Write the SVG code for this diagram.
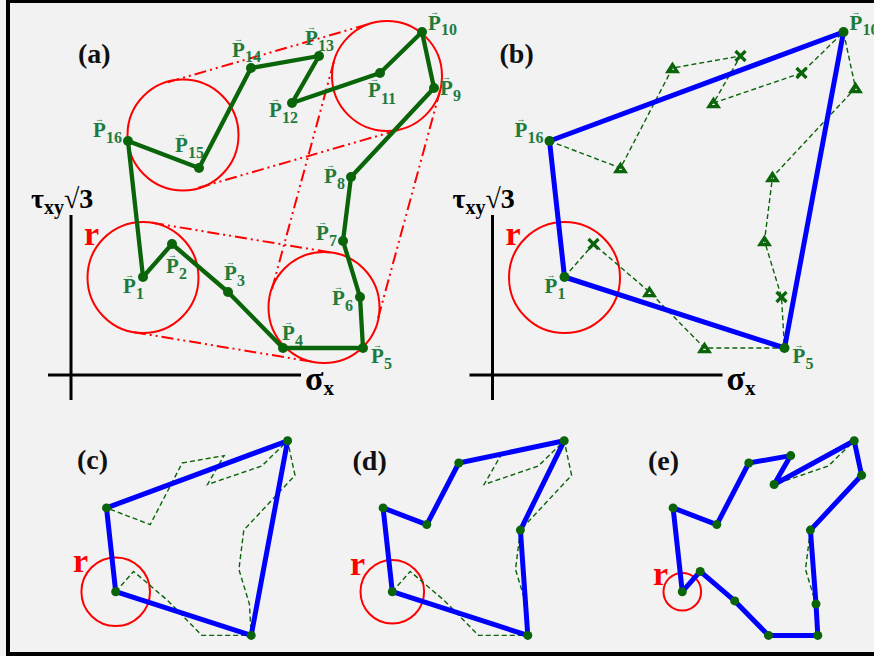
<svg xmlns="http://www.w3.org/2000/svg" xmlns:xlink="http://www.w3.org/1999/xlink" width="874" height="656" viewBox="0 0 874 656">
<style>
text{font-family:"Liberation Serif","DejaVu Serif",serif;font-weight:bold}
.lbl{font-size:21px;fill:#1e7b3c}
.sub{font-size:16px}
.arr{font-size:9px;font-weight:normal}
.pan{font-size:28px;fill:#111}
.r{font-size:34px;fill:#f00}
.ax{stroke:#000;stroke-width:3;fill:none}
.axl{font-size:28px;fill:#000}
.sig{font-size:34px}
.circ{fill:none;stroke:#f00;stroke-width:2}
.tan{fill:none;stroke:#f00;stroke-width:2;stroke-dasharray:12 4 2 4 2 4}
.gpath{fill:none;stroke:#0a640a;stroke-width:4.3;stroke-linejoin:round}
.dash{fill:none;stroke:#0a640a;stroke-width:1.4;stroke-dasharray:5 3}
.hull{fill:none;stroke:#0000ff;stroke-width:5;stroke-linejoin:round}
.dot{fill:#0a640a}
.mk{fill:none;stroke:#0a640a;stroke-width:3.2}
</style>
<defs>
<polygon id="tri" class="mk" points="0,-3.5 4.6,3.6 -4.6,3.6"/>
<g id="crs" class="mk"><line x1="-5" y1="-5" x2="5" y2="5"/><line x1="-5" y1="5" x2="5" y2="-5"/></g>
<polygon id="dashc" class="dash" points="115.7,591.7 133.6,571.4 168.1,600.9 201.9,635.4 251.2,635.4 249.4,604 238.9,569.5 243.8,530.1 295,475.3 287.6,440.8 261.7,466 207.5,484.5 224.1,455.6 182.2,463 150.2,524.6 106.5,507.9"/>
</defs>
<rect width="874" height="656" fill="#f2f2f2"/>
<g id="frame" fill="#000">
<rect x="6" y="0" width="868" height="3"/>
<rect x="6" y="0" width="4" height="656"/>
<rect x="6" y="652" width="868" height="4"/>
</g>

<!-- Panel (a) -->
<g id="panel-a">
<text class="pan" x="78" y="63">(a)</text>
<g id="axes-a">
<line class="ax" x1="71" y1="215" x2="71" y2="400"/>
<line class="ax" x1="48" y1="375" x2="301" y2="375"/>
<text class="axl" x="31" y="208">τ<tspan font-size="20" dy="6">xy</tspan><tspan dy="-6">√3</tspan></text>
<text class="axl" x="305" y="390"><tspan class="sig">σ</tspan><tspan font-size="21" dy="5">x</tspan></text>
</g>
<text class="r" x="84" y="245">r</text>
<g id="circles-a">
<circle class="circ" cx="183" cy="135" r="55.5"/>
<circle class="circ" cx="387" cy="76" r="55"/>
<circle class="circ" cx="143" cy="277.5" r="55.5"/>
<circle class="circ" cx="324" cy="307.5" r="55.5"/>
</g>
<g id="tangents-a">
<line class="tan" x1="167.7" y1="82.2" x2="371.7" y2="23.2"/>
<line class="tan" x1="198.3" y1="187.8" x2="402.3" y2="128.8"/>
<line class="tan" x1="333.9" y1="61.6" x2="270.9" y2="293.1"/>
<line class="tan" x1="440.1" y1="90.4" x2="377.1" y2="321.9"/>
<line class="tan" x1="152.1" y1="222.8" x2="333.1" y2="252.8"/>
<line class="tan" x1="133.9" y1="332.2" x2="314.9" y2="362.2"/>
</g>
<g id="connectors-a">
<polygon class="gpath" points="143,277 172,244 228,292 283,348 363,348 360,297 343,241 351,177 434,88 422,32 380,73 292,103 319,56 251,68 199,168 128,141"/>
</g>
<g id="points-a" class="dot">
<circle cx="143" cy="277" r="5"/><circle cx="172" cy="244" r="5"/><circle cx="228" cy="292" r="5"/><circle cx="283" cy="348" r="5"/>
<circle cx="363" cy="348" r="5"/><circle cx="360" cy="297" r="5"/><circle cx="343" cy="241" r="5"/><circle cx="351" cy="177" r="5"/>
<circle cx="434" cy="88" r="5"/><circle cx="422" cy="32" r="5"/><circle cx="380" cy="73" r="5"/><circle cx="292" cy="103" r="5"/>
<circle cx="319" cy="56" r="5"/><circle cx="251" cy="68" r="5"/><circle cx="199" cy="168" r="5"/><circle cx="128" cy="141" r="5"/>
</g>
<g id="labels-a">
<text id="P1-a" class="lbl" x="123" y="293">P<tspan class="arr" x="125" y="278">→</tspan><tspan class="sub" x="136" y="299">1</tspan></text>
<text id="P2-a" class="lbl" x="166" y="273">P<tspan class="arr" x="168" y="258">→</tspan><tspan class="sub" x="179" y="279">2</tspan></text>
<text id="P3-a" class="lbl" x="224" y="280">P<tspan class="arr" x="226" y="265">→</tspan><tspan class="sub" x="237" y="286">3</tspan></text>
<text id="P4-a" class="lbl" x="282" y="340">P<tspan class="arr" x="284" y="325">→</tspan><tspan class="sub" x="295" y="346">4</tspan></text>
<text id="P5-a" class="lbl" x="371" y="363">P<tspan class="arr" x="373" y="348">→</tspan><tspan class="sub" x="384" y="369">5</tspan></text>
<text id="P6-a" class="lbl" x="332" y="305">P<tspan class="arr" x="334" y="290">→</tspan><tspan class="sub" x="345" y="311">6</tspan></text>
<text id="P7-a" class="lbl" x="316" y="240">P<tspan class="arr" x="318" y="225">→</tspan><tspan class="sub" x="329" y="246">7</tspan></text>
<text id="P8-a" class="lbl" x="324" y="183">P<tspan class="arr" x="326" y="168">→</tspan><tspan class="sub" x="337" y="189">8</tspan></text>
<text id="P9-a" class="lbl" x="440" y="95">P<tspan class="arr" x="442" y="80">→</tspan><tspan class="sub" x="453" y="101">9</tspan></text>
<text id="P10-a" class="lbl" x="428" y="30">P<tspan class="arr" x="430" y="15">→</tspan><tspan class="sub" x="441" y="35">10</tspan></text>
<text id="P11-a" class="lbl" x="368" y="97">P<tspan class="arr" x="370" y="82">→</tspan><tspan class="sub" x="381" y="104">11</tspan></text>
<text id="P12-a" class="lbl" x="269" y="117">P<tspan class="arr" x="271" y="102">→</tspan><tspan class="sub" x="282" y="123">12</tspan></text>
<text id="P13-a" class="lbl" x="305" y="45">P<tspan class="arr" x="307" y="30">→</tspan><tspan class="sub" x="318" y="51">13</tspan></text>
<text id="P14-a" class="lbl" x="232" y="57">P<tspan class="arr" x="234" y="42">→</tspan><tspan class="sub" x="245" y="62">14</tspan></text>
<text id="P15-a" class="lbl" x="175" y="152">P<tspan class="arr" x="177" y="137">→</tspan><tspan class="sub" x="188" y="158">15</tspan></text>
<text id="P16-a" class="lbl" x="93" y="137">P<tspan class="arr" x="95" y="122">→</tspan><tspan class="sub" x="106" y="143">16</tspan></text>
</g>
</g>

<!-- Panel (b) -->
<g id="panel-b">
<text class="pan" x="499.5" y="63">(b)</text>
<g id="axes-b">
<line class="ax" x1="492.5" y1="215" x2="492.5" y2="400"/>
<line class="ax" x1="469.5" y1="375" x2="722.5" y2="375"/>
<text class="axl" x="452.5" y="208">τ<tspan font-size="20" dy="6">xy</tspan><tspan dy="-6">√3</tspan></text>
<text class="axl" x="726.5" y="390"><tspan class="sig">σ</tspan><tspan font-size="21" dy="5">x</tspan></text>
</g>
<text class="r" x="505.5" y="245">r</text>
<circle class="circ" cx="564.5" cy="277.5" r="55.5"/>
<g id="connectors-b">
<polygon class="dash" points="564.5,277 593.5,244 649.5,292 704.5,348 784.5,348 781.5,297 764.5,241 772.5,177 855.5,88 843.5,32 801.5,73 713.5,103 740.5,56 672.5,68 620.5,168 549.5,141"/>
<polygon class="hull" points="564.5,277 784.5,348 843.5,32 549.5,141"/>
</g>
<g id="markers-b">
<use xlink:href="#crs" x="593.5" y="244"/>
<use xlink:href="#tri" x="649.5" y="292"/>
<use xlink:href="#tri" x="704.5" y="348"/>
<use xlink:href="#crs" x="781.5" y="297"/>
<use xlink:href="#tri" x="764.5" y="241"/>
<use xlink:href="#tri" x="772.5" y="177"/>
<use xlink:href="#tri" x="855.5" y="88"/>
<use xlink:href="#crs" x="801.5" y="73"/>
<use xlink:href="#tri" x="713.5" y="103"/>
<use xlink:href="#crs" x="740.5" y="56"/>
<use xlink:href="#tri" x="672.5" y="68"/>
<use xlink:href="#tri" x="620.5" y="168"/>
</g>
<g id="points-b" class="dot">
<circle cx="564.5" cy="277" r="5"/><circle cx="784.5" cy="348" r="5"/><circle cx="843.5" cy="32" r="5"/><circle cx="549.5" cy="141" r="5"/>
</g>
<g id="labels-b">
<text id="P1-b" class="lbl" x="544.5" y="293">P<tspan class="arr" x="546.5" y="278">→</tspan><tspan class="sub" x="557.5" y="299">1</tspan></text>
<text id="P5-b" class="lbl" x="792.5" y="363">P<tspan class="arr" x="794.5" y="348">→</tspan><tspan class="sub" x="805.5" y="369">5</tspan></text>
<text id="P10-b" class="lbl" x="849.5" y="30">P<tspan class="arr" x="851.5" y="15">→</tspan><tspan class="sub" x="862.5" y="35">10</tspan></text>
<text id="P16-b" class="lbl" x="514.5" y="137">P<tspan class="arr" x="516.5" y="122">→</tspan><tspan class="sub" x="527.5" y="143">16</tspan></text>
</g>
</g>

<!-- Panel (c) -->
<g id="panel-c">
<text class="pan" x="77" y="469">(c)</text>
<text class="r" x="73" y="572">r</text>
<circle class="circ" cx="115.7" cy="591.7" r="34.3"/>
<g id="connectors-c">
<use xlink:href="#dashc"/>
<polygon class="hull" points="115.7,591.7 251.2,635.4 287.6,440.8 106.5,507.9"/>
</g>
<g class="dot">
<circle cx="115.7" cy="591.7" r="4.5"/><circle cx="251.2" cy="635.4" r="4.5"/><circle cx="287.6" cy="440.8" r="4.5"/><circle cx="106.5" cy="507.9" r="4.5"/>
</g>
</g>

<!-- Panel (d) -->
<g id="panel-d">
<text class="pan" x="352.5" y="470">(d)</text>
<text class="r" x="350" y="575">r</text>
<circle class="circ" cx="392.3" cy="591.7" r="31.8"/>
<g id="connectors-d" transform="translate(276.6,0)">
<use xlink:href="#dashc"/>
<polygon class="hull" points="115.7,591.7 251.2,635.4 243.8,530.1 287.6,440.8 182.2,463 150.2,524.6 106.5,507.9"/>
<g class="dot">
<circle cx="115.7" cy="591.7" r="4.5"/><circle cx="251.2" cy="635.4" r="4.5"/><circle cx="243.8" cy="530.1" r="4.5"/><circle cx="287.6" cy="440.8" r="4.5"/>
<circle cx="182.2" cy="463" r="4.5"/><circle cx="150.2" cy="524.6" r="4.5"/><circle cx="106.5" cy="507.9" r="4.5"/>
</g>
</g>
</g>

<!-- Panel (e) -->
<g id="panel-e">
<text class="pan" x="648" y="470">(e)</text>
<text class="r" x="653" y="585">r</text>
<circle class="circ" cx="682.3" cy="591.7" r="18.8"/>
<g id="connectors-e" transform="translate(566.6,0)">
<use xlink:href="#dashc"/>
<polygon class="hull" points="115.7,591.7 133.6,571.4 168.1,600.9 201.9,635.4 251.2,635.4 249.4,604 243.8,530.1 295,475.3 287.6,440.8 207.5,484.5 224.1,455.6 182.2,463 150.2,524.6 106.5,507.9"/>
<g class="dot">
<circle cx="115.7" cy="591.7" r="4.5"/><circle cx="133.6" cy="571.4" r="4.5"/><circle cx="168.1" cy="600.9" r="4.5"/><circle cx="201.9" cy="635.4" r="4.5"/>
<circle cx="251.2" cy="635.4" r="4.5"/><circle cx="249.4" cy="604" r="4.5"/><circle cx="243.8" cy="530.1" r="4.5"/><circle cx="295" cy="475.3" r="4.5"/>
<circle cx="287.6" cy="440.8" r="4.5"/><circle cx="207.5" cy="484.5" r="4.5"/><circle cx="224.1" cy="455.6" r="4.5"/><circle cx="182.2" cy="463" r="4.5"/>
<circle cx="150.2" cy="524.6" r="4.5"/><circle cx="106.5" cy="507.9" r="4.5"/>
</g>
</g>
</g>
</svg>
